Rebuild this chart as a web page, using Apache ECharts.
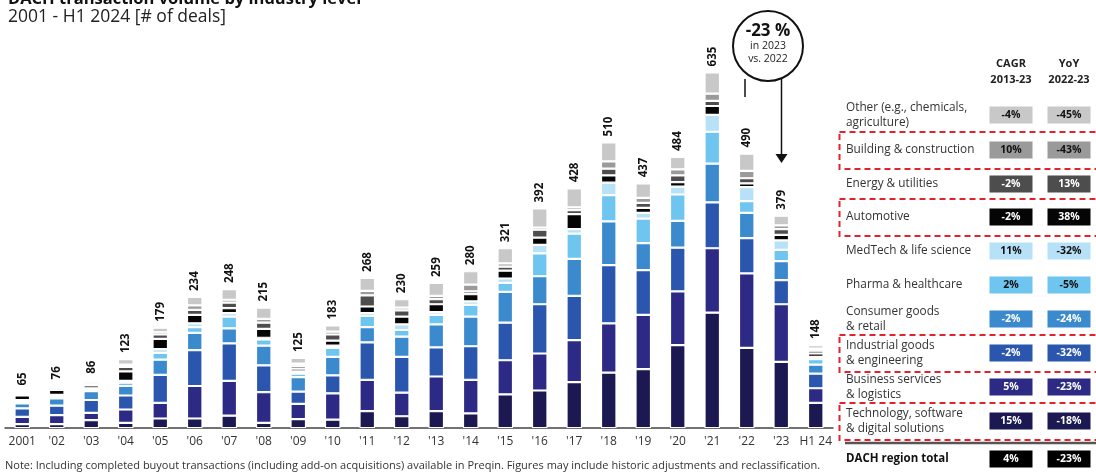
<!DOCTYPE html>
<html><head><meta charset="utf-8">
<script src="https://cdn.jsdelivr.net/npm/echarts@6/dist/echarts.min.js"></script>
<style>html,body{margin:0;padding:0;background:#fff}#c{width:1096px;height:474px}</style>
</head><body><div id="c"></div>
<script>
// ---------- DATA ----------
const categories = ['2001',"'02","'03","'04","'05","'06","'07","'08","'09","'10","'11","'12","'13","'14","'15","'16","'17","'18","'19","'20","'21","'22","'23",'H1 24'];
const totals = [65,76,86,123,179,234,248,215,125,183,268,230,259,280,321,392,428,510,437,484,635,490,379,148];
const technology = [7,7,14,9,17,17,22,9,16,15,30,21,30,26,60,67,82,99,105,148,206,143,118,45];
const business   = [13,16,13,24,28,58,62,55,27,47,56,42,62,60,61,66,75,88,97,96,115,133,103,26];
const industrial = [15,17,23,25,50,64,67,48,22,32,67,64,52,60,67,88,79,104,80,78,82,63,43,26];
const consumer   = [9,13,16,17,27,31,27,35,26,33,27,36,41,53,55,50,66,78,48,48,69,45,34,16];
const pharma     = [4,3,3,6,12,10,21,11,6,16,20,12,17,21,16,41,45,47,44,47,57,21,20,10];
const medtech    = [2,3,2,3,7,7,6,3,4,4,5,10,5,6,8,15,8,22,10,14,30,25,17,4];
const automotive = [8,9,5,17,18,15,9,16,5,9,12,14,14,13,14,13,27,13,9,8,16,7,10,6];
const energy     = [2,3,3,8,8,9,10,11,5,11,20,11,9,5,7,14,7,12,9,12,9,9,10,5];
const building   = [2,2,3,4,4,8,5,7,4,5,8,5,6,12,6,4,5,13,9,11,13,13,7,4];
const other      = [3,3,4,10,8,15,19,20,10,11,23,15,23,24,27,34,34,34,26,22,38,31,17,6];

const industryLabels = ['Other (e.g., chemicals,\nagriculture)','Building & construction','Energy & utilities','Automotive','MedTech & life science','Pharma & healthcare','Consumer goods\n& retail','Industrial goods\n& engineering','Business services\n& logistics','Technology, software\n& digital solutions'];
const cagr = ['-4%','10%','-2%','-2%','11%','2%','-2%','-2%','5%','15%'];
const yoy  = ['-45%','-43%','13%','38%','-32%','-5%','-24%','-32%','-23%','-18%'];
const highlighted = [false,true,false,true,false,false,false,true,false,true];
const totalLabel = 'DACH region total';
const totalCagr = '4%', totalYoy = '-23%';

// ---------- STYLE ----------
const FONT = '"Open Sans", Lato, sans-serif';
const seriesDefs = [
  ['Technology, software & digital solutions', technology, '#1b1852', '#fff'],
  ['Business services & logistics', business, '#2c2a84', '#fff'],
  ['Industrial goods & engineering', industrial, '#2a56ae', '#fff'],
  ['Consumer goods & retail', consumer, '#3b8ace', '#fff'],
  ['Pharma & healthcare', pharma, '#6ec5ef', '#111'],
  ['MedTech & life science', medtech, '#b6e1f6', '#111'],
  ['Automotive', automotive, '#050505', '#fff'],
  ['Energy & utilities', energy, '#4d4d4d', '#fff'],
  ['Building & construction', building, '#9a9a9a', '#111'],
  ['Other (e.g., chemicals, agriculture)', other, '#c8c8c8', '#111']
];
const rowColors = seriesDefs.slice().reverse();

const series = seriesDefs.map((d, i) => ({
  name: d[0], type: 'bar', stack: 'all', data: d[1], barWidth: 15.5,
  itemStyle: { color: d[2], borderColor: '#fff', borderWidth: 1.1 },
  label: i === seriesDefs.length - 1 ? {
    show: true, position: 'top', rotate: 90, align: 'left', verticalAlign: 'middle', distance: 6,
    formatter: p => String(totals[p.dataIndex]),
    fontFamily: FONT, fontWeight: 'bold', fontSize: 11.5, color: '#111'
  } : { show: false },
  emphasis: { disabled: true }, animation: false
}));

// ---------- GRAPHICS ----------
const g = [];
g.push({ type: 'text', left: 8, top: -9, style: { text: 'DACH transaction volume by industry level', fontFamily: FONT, fontWeight: 'bold', fontSize: 16.5, fill: '#111' } });
g.push({ type: 'text', left: 8, top: 8, style: { text: '2001 - H1 2024 [# of deals]', fontFamily: FONT, fontSize: 17.5, fill: '#222' } });
g.push({ type: 'text', left: 5, top: 460, style: { text: 'Note: Including completed buyout transactions (including add-on acquisitions) available in Preqin. Figures may include historic adjustments and reclassification.', fontFamily: FONT, fontSize: 11, fill: '#333' } });

const cx1 = 1011, cx2 = 1069;
[['CAGR\n2013-23', cx1], ['YoY\n2022-23', cx2]].forEach(h => {
  g.push({ type: 'text', x: h[1], y: 72, style: { text: h[0], fontFamily: FONT, fontWeight: 'bold', fontSize: 11, fill: '#222', align: 'center', verticalAlign: 'middle', lineHeight: 16 } });
});
const rowY = [115,150,184,217,251,285,319,353,387,421];
industryLabels.forEach((lab, i) => {
  const y = rowY[i];
  g.push({ type: 'text', x: 846, y: y, style: { text: lab, fontFamily: FONT, fontSize: 11.8, fill: '#333', verticalAlign: 'middle', lineHeight: 15 } });
  const col = rowColors[i][2], tc = rowColors[i][3];
  [[cagr[i], cx1], [yoy[i], cx2]].forEach(v => {
    g.push({ type: 'rect', shape: { x: v[1] - 21.5, y: y - 8.5, width: 43, height: 17 }, style: { fill: col } });
    g.push({ type: 'text', x: v[1], y: y, style: { text: v[0], fontFamily: FONT, fontWeight: 'bold', fontSize: 10.5, fill: tc, align: 'center', verticalAlign: 'middle' } });
  });
  if (highlighted[i]) {
    g.push({ type: 'rect', shape: { x: 839.5, y: y - 18, width: 262, height: 37 }, style: { fill: 'none', stroke: '#e3232b', lineWidth: 2, lineDash: [6, 4] } });
  }
});
g.push({ type: 'line', shape: { x1: 845, y1: 443, x2: 1096, y2: 443 }, style: { stroke: '#555', lineWidth: 2.5 } });
g.push({ type: 'text', x: 846, y: 459, style: { text: totalLabel, fontFamily: FONT, fontWeight: 'bold', fontSize: 11.5, fill: '#111', verticalAlign: 'middle' } });
[[totalCagr, cx1], [totalYoy, cx2]].forEach(v => {
  g.push({ type: 'rect', shape: { x: v[1] - 21.5, y: 459 - 8.5, width: 43, height: 17 }, style: { fill: '#000' } });
  g.push({ type: 'text', x: v[1], y: 459, style: { text: v[0], fontFamily: FONT, fontWeight: 'bold', fontSize: 10.5, fill: '#fff', align: 'center', verticalAlign: 'middle' } });
});

g.push({ type: 'circle', shape: { cx: 768, cy: 46, r: 35 }, style: { fill: '#fff', stroke: '#111', lineWidth: 2 } });
g.push({ type: 'text', x: 768, y: 31, style: { text: '-23 %', fontFamily: FONT, fontWeight: 'bold', fontSize: 17, fill: '#111', align: 'center', verticalAlign: 'middle' } });
g.push({ type: 'text', x: 768, y: 53, style: { text: 'in 2023\nvs. 2022', fontFamily: FONT, fontSize: 10.5, fill: '#222', align: 'center', verticalAlign: 'middle', lineHeight: 13 } });
g.push({ type: 'line', shape: { x1: 745, y1: 79, x2: 745, y2: 97 }, style: { stroke: '#111', lineWidth: 1.5 } });
g.push({ type: 'line', shape: { x1: 781.5, y1: 78, x2: 781.5, y2: 156 }, style: { stroke: '#111', lineWidth: 1.5 } });
g.push({ type: 'polygon', shape: { points: [[775.5, 154], [787.5, 154], [781.5, 163]] }, style: { fill: '#111' } });

const chart = echarts.init(document.getElementById('c'), null, { renderer: 'canvas' });
chart.setOption({
  animation: false,
  grid: { left: 5, width: 828, top: 36, bottom: 46, containLabel: false },
  xAxis: {
    type: 'category', data: categories,
    axisLine: { lineStyle: { color: '#444', width: 1.5 } },
    axisTick: { show: false },
    axisLabel: { fontFamily: FONT, fontSize: 12, color: '#333', margin: 8, interval: 0 }
  },
  yAxis: { type: 'value', min: 0, max: 700, show: false, splitLine: { show: false } },
  series: series,
  graphic: { elements: g }
});
</script></body></html>
